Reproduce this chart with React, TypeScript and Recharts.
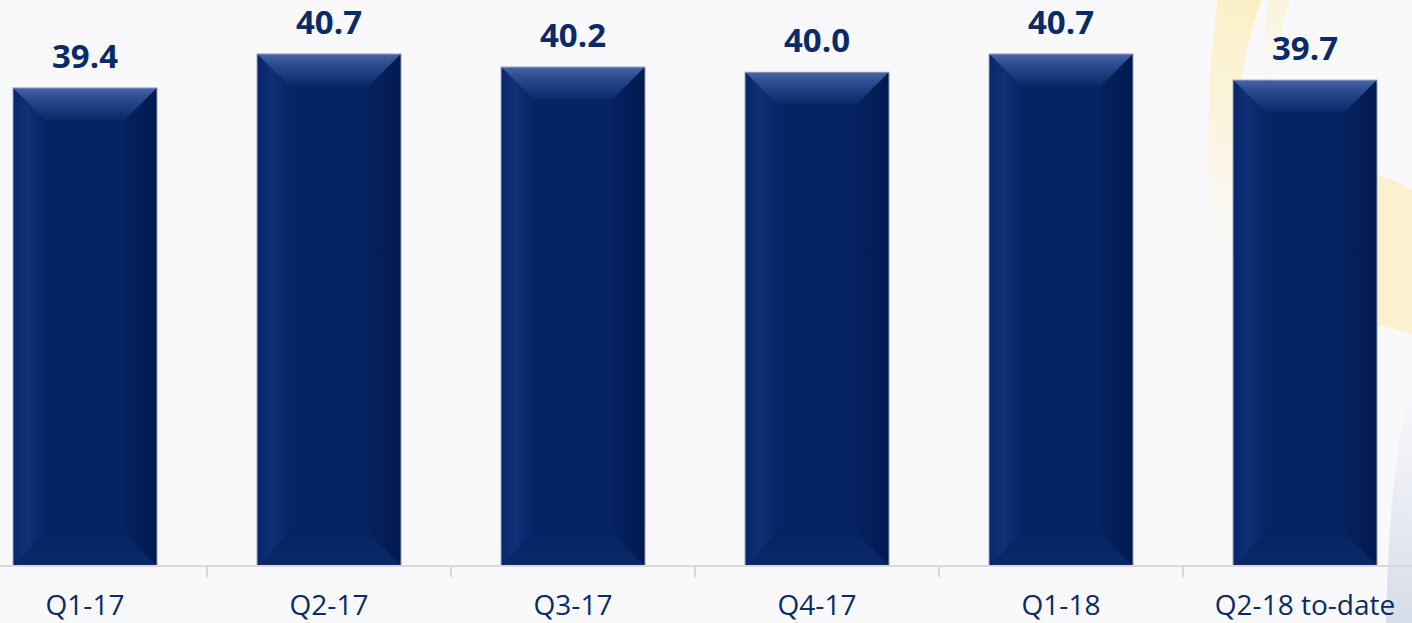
import React from "react";
import { BarChart, Bar, XAxis, YAxis, LabelList } from "recharts";

const categories = ["Q1-17", "Q2-17", "Q3-17", "Q4-17", "Q1-18", "Q2-18 to-date"];
const values = [39.4, 40.7, 40.2, 40.0, 40.7, 39.7];
const valueLabels = ["39.4", "40.7", "40.2", "40.0", "40.7", "39.7"];

const data = categories.map((c, i) => ({ name: c, value: values[i], label: valueLabels[i] }));

const NAVY = "#0b2a68";
const FONT = "'Open Sans', 'Noto Sans', sans-serif";

const BevelBar = (props: any) => {
  const { x, y, width: w, height: h, index } = props;
  if (w == null || h == null || h <= 0) return null;
  const b = Math.min(32, w / 4, h / 2);
  const id = `bv${index}`;
  return (
    <g>
      <defs>
        <linearGradient id={`${id}t`} x1="0" y1="0" x2="0" y2="1">
          <stop offset="0%" stopColor="#4664a7" />
          <stop offset="35%" stopColor="#2a4a8e" />
          <stop offset="100%" stopColor="#0a296a" />
        </linearGradient>
        <linearGradient id={`${id}l`} x1="0" y1="0" x2="1" y2="0">
          <stop offset="0%" stopColor="#08276a" />
          <stop offset="45%" stopColor="#0f2f78" />
          <stop offset="100%" stopColor="#062466" />
        </linearGradient>
        <linearGradient id={`${id}r`} x1="0" y1="0" x2="1" y2="0">
          <stop offset="0%" stopColor="#05225f" />
          <stop offset="100%" stopColor="#011a50" />
        </linearGradient>
        <linearGradient id={`${id}b`} x1="0" y1="0" x2="0" y2="1">
          <stop offset="0%" stopColor="#062364" />
          <stop offset="100%" stopColor="#0a2868" />
        </linearGradient>
      </defs>
      <rect x={x} y={y} width={w} height={h} fill="#062364" />
      <polygon
        points={`${x},${y} ${x + w},${y} ${x + w - b},${y + b} ${x + b},${y + b}`}
        fill={`url(#${id}t)`}
      />
      <polygon
        points={`${x},${y} ${x + b},${y + b} ${x + b},${y + h - b} ${x},${y + h}`}
        fill={`url(#${id}l)`}
      />
      <polygon
        points={`${x + w},${y} ${x + w},${y + h} ${x + w - b},${y + h - b} ${x + w - b},${y + b}`}
        fill={`url(#${id}r)`}
      />
      <polygon
        points={`${x},${y + h} ${x + w},${y + h} ${x + w - b},${y + h - b} ${x + b},${y + h - b}`}
        fill={`url(#${id}b)`}
      />
      <rect x={x} y={y} width={w} height={h} fill="none" stroke="#9aa4bb" strokeWidth={1} />
    </g>
  );
};

const CategoryTick = (props: any) => {
  const { x, y, payload, index, visibleTicksCount } = props;
  const half = payload && payload.offset ? payload.offset : 0;
  const last = visibleTicksCount != null ? index === visibleTicksCount - 1 : index === categories.length - 1;
  return (
    <g>
      {!last && half > 0 && (
        <line x1={x + half} x2={x + half} y1={y + 1} y2={y + 11} stroke="#d9d9d9" strokeWidth={2} />
      )}
      <text x={x} y={y + 49} textAnchor="middle" fill={NAVY} fontSize={28} fontFamily={FONT}>
        {payload.value}
      </text>
    </g>
  );
};

export default function App() {
  return (
    <div
      style={{
        position: "fixed",
        left: 0,
        top: 0,
        width: 1412,
        height: 623,
        overflow: "hidden",
        background: "#f9f9fb",
      }}
    >
      <svg width={1412} height={623} style={{ position: "absolute", left: 0, top: 0 }}>
        <defs>
          <linearGradient id="wmY" x1="0" y1="0" x2="0" y2="1">
            <stop offset="0%" stopColor="#fcefc0" stopOpacity={0.9} />
            <stop offset="100%" stopColor="#fcefc0" stopOpacity={0} />
          </linearGradient>
          <linearGradient id="wmB" x1="0" y1="0" x2="0" y2="1">
            <stop offset="0%" stopColor="#dde2ec" stopOpacity={0} />
            <stop offset="100%" stopColor="#d6dce8" stopOpacity={1} />
          </linearGradient>
        </defs>
        <path
          d="M 1218 0 L 1262 0 C 1238 60, 1232 140, 1236 260 L 1212 260 C 1206 150, 1208 60, 1218 0 Z"
          fill="url(#wmY)"
        />
        <path
          d="M 1268 0 L 1290 0 C 1280 30, 1276 60, 1276 90 L 1266 90 C 1264 55, 1264 25, 1268 0 Z"
          fill="url(#wmY)"
          opacity={0.6}
        />
        <path
          d="M 1378 175 C 1395 180, 1405 185, 1412 190 L 1412 335 C 1400 330, 1390 328, 1378 325 Z"
          fill="#fbf0cc"
          opacity={0.9}
        />
        <path
          d="M 1412 380 C 1398 430, 1388 510, 1386 623 L 1412 623 Z"
          fill="url(#wmB)"
        />
      </svg>
      <div style={{ position: "absolute", left: -37, top: 0 }}>
        <BarChart
          width={1464}
          height={623}
          data={data}
          margin={{ top: 20, right: 0, bottom: 0, left: 0 }}
          barCategoryGap="20.5%"
        >
          <XAxis
            dataKey="name"
            height={57}
            axisLine={{ stroke: "#d9d9d9", strokeWidth: 2 }}
            tickLine={false}
            tickSize={0}
            tickMargin={0}
            interval={0}
            tick={<CategoryTick />}
          />
          <YAxis hide domain={[21.1, 42]} />
          <Bar dataKey="value" isAnimationActive={false} shape={<BevelBar />}>
            <LabelList
              dataKey="label"
              position="top"
              offset={20}
              fill={NAVY}
              fontSize={33}
              fontWeight={700}
              fontFamily={FONT}
            />
          </Bar>
        </BarChart>
      </div>
    </div>
  );
}
